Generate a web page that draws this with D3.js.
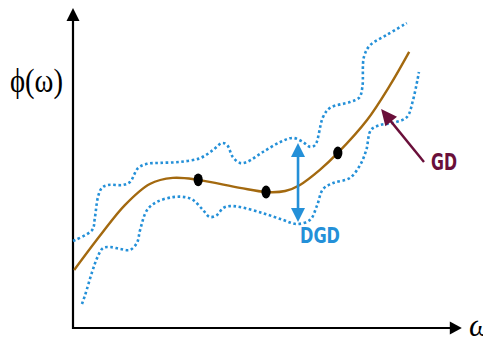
<!DOCTYPE html>
<html>
<head>
<meta charset="utf-8">
<script src="https://cdn.jsdelivr.net/npm/d3@7/dist/d3.min.js"></script>
<style>
  html, body { margin: 0; padding: 0; background: #fff; overflow: hidden; }
  svg { display: block; }
</style>
</head>
<body>
<svg id="chart" width="483" height="337"></svg>
<script>
// Group delay (GD) curve, in normalised units (0-100 on both axes)
const gdX = [0.3, 6.9, 13.3, 19.7, 25.6, 32.1, 42.8, 49.5, 54.4, 58.2, 63.3, 67.9, 75.4, 81.3, 86.2];
const gdY = [18.1, 28.8, 38.4, 45, 46.9, 46.3, 43.8, 42.5, 42.8, 44.7, 49.4, 54.7, 65, 75.9, 86.3];

// Upper envelope (GD + DGD)
const upperX = [0, 4.9, 5.6, 6.4, 7.4, 9, 12.8, 14.6, 16.7, 19, 22.3, 27.4, 32.6, 35.9, 38.2, 39.5, 41, 42.8, 44.6, 48.7, 53.1, 56.4, 59, 60.8, 62.1, 64.1, 65.9, 71, 73.4, 74.2, 74.6, 76.2, 80.5, 85.6];
const upperY = [27.2, 30.6, 34.4, 40.9, 43.8, 44.7, 44.7, 45.6, 50, 51.3, 51.6, 51.9, 53.1, 55.6, 57.8, 57.2, 53.4, 51.6, 51.9, 55, 58.1, 59.4, 58.1, 56.6, 57.2, 65.9, 68.8, 70.6, 72, 75.3, 84.7, 88.4, 91.6, 95.3];

// Lower envelope (GD - DGD)
const lowerX = [2.3, 3.1, 4.9, 6.2, 7.7, 9.5, 12.1, 14.6, 16.4, 17.2, 19, 21.5, 25.6, 28.7, 30.8, 33.3, 35.1, 36.9, 38.5, 40.3, 42.8, 48.7, 53.8, 57.4, 60.8, 62.6, 64.1, 66.7, 71, 73.6, 75.2, 76.4, 78.7, 82.1, 85.6, 87.2, 88.7];
const lowerY = [7.5, 10.3, 17.5, 21.9, 25, 25.3, 24.7, 24.4, 26.6, 30.6, 36.9, 39.4, 40.9, 40.9, 40, 36.9, 34.7, 35.3, 37.5, 38.1, 37.8, 35.9, 33.8, 32.5, 33.8, 38.4, 43.4, 45.3, 46.9, 50.9, 55.6, 61.9, 63.4, 64.1, 65.9, 71.3, 80];

// Sample frequencies marked on the GD curve
const markX = [32.1, 49.5, 67.9];
const markY = [46.3, 42.5, 54.7];

// DGD span indicator and GD pointer
const dgdX = [57.7];
const dgdSpan = [57.8, 33.1];
const gdPointerX = [90, 79];
const gdPointerY = [51.9, 68.4];

const axisLabels = ["ϕ(ω)", "ω"];
const annotations = ["DGD", "GD"];

const svg = d3.select("#chart");
const x = d3.scaleLinear().domain([0, 100]).range([73, 463]);
const y = d3.scaleLinear().domain([0, 100]).range([328, 8]);

const brown = "#a3690f";
const blue = "#2490d8";
const maroon = "#6a0f3a";

function arrowHead(g, tipX, tipY, fromX, fromY, len, halfW, color) {
  const a = Math.atan2(tipY - fromY, tipX - fromX);
  const bx = tipX - len * Math.cos(a), by = tipY - len * Math.sin(a);
  const nx = -Math.sin(a), ny = Math.cos(a);
  g.append("path")
    .attr("d", `M${tipX},${tipY}L${bx + nx * halfW},${by + ny * halfW}L${bx - nx * halfW},${by - ny * halfW}Z`)
    .attr("fill", color);
}

// Axes
const axes = svg.append("g");
axes.append("line")
  .attr("x1", x(0)).attr("y1", y(0) + 1)
  .attr("x2", x(0)).attr("y2", y(96))
  .attr("stroke", "#000").attr("stroke-width", 2.2);
arrowHead(axes, x(0), y(100), x(0), y(0), 13, 6.5, "#000");
axes.append("line")
  .attr("x1", x(0) - 1).attr("y1", y(0))
  .attr("x2", x(97)).attr("y2", y(0))
  .attr("stroke", "#000").attr("stroke-width", 2.2);
arrowHead(axes, x(99.7), y(0), x(0), y(0), 12, 6.5, "#000");

// Axis labels
svg.append("text")
  .attr("x", 10).attr("y", 92)
  .attr("font-family", "Liberation Serif, serif")
  .attr("font-size", 33)
  .attr("textLength", 53).attr("lengthAdjust", "spacingAndGlyphs")
  .attr("fill", "#000")
  .text(axisLabels[0]);
svg.append("text")
  .attr("x", 469).attr("y", 336)
  .attr("font-family", "Liberation Serif, serif")
  .attr("font-style", "italic")
  .attr("font-size", 31)
  .attr("fill", "#000")
  .text(axisLabels[1]);

const line = d3.line()
  .x(d => x(d[0]))
  .y(d => y(d[1]))
  .curve(d3.curveCatmullRom.alpha(0.5));

// Envelopes
[[upperX, upperY], [lowerX, lowerY]].forEach(([xs, ys]) => {
  svg.append("path")
    .attr("d", line(d3.zip(xs, ys)))
    .attr("fill", "none")
    .attr("stroke", blue)
    .attr("stroke-width", 2.6)
    .attr("stroke-dasharray", "2.6,2.6");
});

// GD curve
svg.append("path")
  .attr("d", line(d3.zip(gdX, gdY)))
  .attr("fill", "none")
  .attr("stroke", brown)
  .attr("stroke-width", 2.4);

// Markers
svg.selectAll("ellipse.mark")
  .data(d3.zip(markX, markY))
  .join("ellipse")
  .attr("class", "mark")
  .attr("cx", d => x(d[0]))
  .attr("cy", d => y(d[1]))
  .attr("rx", 4.6).attr("ry", 6.4)
  .attr("fill", "#000");

// DGD double arrow
const dg = svg.append("g");
dg.append("line")
  .attr("x1", x(dgdX[0])).attr("y1", y(dgdSpan[0]) + 10)
  .attr("x2", x(dgdX[0])).attr("y2", y(dgdSpan[1]) - 10)
  .attr("stroke", blue).attr("stroke-width", 2.6);
arrowHead(dg, x(dgdX[0]), y(dgdSpan[0]), x(dgdX[0]), y(dgdSpan[1]), 14, 7, blue);
arrowHead(dg, x(dgdX[0]), y(dgdSpan[1]), x(dgdX[0]), y(dgdSpan[0]), 14, 7, blue);
svg.append("text")
  .attr("x", 300).attr("y", 243)
  .attr("font-family", "DejaVu Sans, sans-serif")
  .attr("font-weight", "bold")
  .attr("font-size", 21)
  .attr("textLength", 40).attr("lengthAdjust", "spacingAndGlyphs")
  .attr("fill", blue)
  .text(annotations[0]);

// GD pointer
const gp = svg.append("g");
gp.append("line")
  .attr("x1", x(gdPointerX[0])).attr("y1", y(gdPointerY[0]))
  .attr("x2", x(gdPointerX[1]) + 8).attr("y2", y(gdPointerY[1]) + 10)
  .attr("stroke", maroon).attr("stroke-width", 2.4);
arrowHead(gp, x(gdPointerX[1]), y(gdPointerY[1]), x(gdPointerX[0]), y(gdPointerY[0]), 16, 7.5, maroon);
svg.append("text")
  .attr("x", 431).attr("y", 170)
  .attr("font-family", "DejaVu Sans, sans-serif")
  .attr("font-weight", "bold")
  .attr("font-size", 23)
  .attr("textLength", 26).attr("lengthAdjust", "spacingAndGlyphs")
  .attr("fill", maroon)
  .text(annotations[1]);
</script>
</body>
</html>
